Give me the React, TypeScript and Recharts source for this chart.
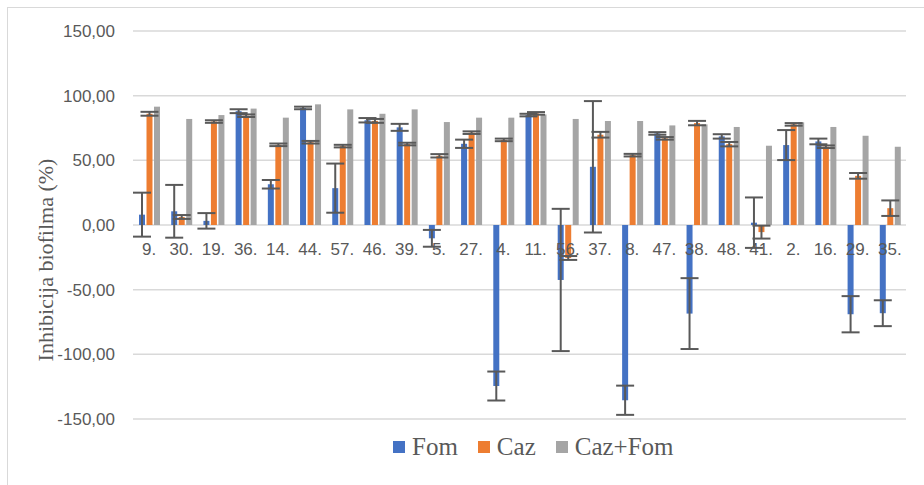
import React from 'react';
import {
  BarChart,
  Bar,
  XAxis,
  YAxis,
  CartesianGrid,
  Legend,
  ErrorBar,
} from 'recharts';

// sample labels, in the order shown on the axis
const samples = [
  '9.', '30.', '19.', '36.', '14.', '44.', '57.', '46.', '39.', '5.', '27.', '4.',
  '11.', '56.', '37.', '8.', '47.', '38.', '48.', '41.', '2.', '16.', '29.', '35.',
];

const fom = [
  8, 10.6, 3.2, 88, 31.5, 90.5, 28.5, 81, 75.5, -10.3, 62.8, -124.5,
  85, -42.5, 45, -135.5, 70.8, -68.5, 68.5, 1.8, 61.8, 64.6, -69, -68.2,
];
const fomErr = [
  17, 20.4, 6, 1.5, 3.3, 1, 19, 1.7, 2.7, 6.5, 3.2, 11.2,
  1, 55, 50.8, 11.3, 1, 27.4, 1.7, 19.5, 11.6, 2.2, 14, 10,
];
const caz = [
  86, 6.2, 80, 84.5, 62, 64, 61, 80.5, 62.6, 53.5, 71.4, 65.8,
  86.3, -25.5, 69.8, 54, 67, 78.8, 62.5, -5.5, 77.8, 60.5, 38, 13,
];
const cazErr = [
  1.5, 1.5, 1, 1, 1, 1, 1, 1.5, 1, 1.3, 1, 1,
  1, 1.5, 2.2, 1, 1, 1.7, 1.7, 5, 1, 1, 2.2, 6,
];
const cazFom = [
  91.5, 82, 85, 90, 83, 93.3, 89.4, 86, 89.4, 79.6, 83, 83,
  85.5, 82, 80.4, 80.4, 77, 77.8, 75.8, 61.3, 79.4, 75.8, 69, 60.5,
];

const seriesOrder = ['Fom', 'Caz', 'Caz+Fom'];
const yTicks = [-150, -100, -50, 0, 50, 100, 150];

const data = samples.map((name, i) => ({
  name,
  Fom: fom[i],
  fomErr: fomErr[i],
  Caz: caz[i],
  cazErr: cazErr[i],
  'Caz+Fom': cazFom[i],
}));

const W = 924;
const H = 485;
const TOP = 31;
const BOTTOM = 66;
const Y_MIN = -150;
const Y_MAX = 150;
const ZERO_Y = TOP + ((H - TOP - BOTTOM) * Y_MAX) / (Y_MAX - Y_MIN);

const tickFont = "'Liberation Sans', Arial, sans-serif";
const serif = "'Liberation Serif', 'Times New Roman', serif";

// category labels sit just under the zero line, like Excel does
const CategoryTick = (props: any) => (
  <text
    x={props.x}
    y={ZERO_Y + 18}
    dy="0.71em"
    textAnchor="middle"
    fill="#595959"
    fontSize={17}
    fontFamily={tickFont}
  >
    {props.payload.value}
  </text>
);

const renderLegend = (props: any) => {
  const items = [...(props.payload || [])].sort(
    (a: any, b: any) => seriesOrder.indexOf(a.value) - seriesOrder.indexOf(b.value)
  );
  return (
    <div style={{ display: 'flex', alignItems: 'center', fontFamily: serif, fontSize: 25, color: '#595959', whiteSpace: 'nowrap' }}>
      {items.map((entry: any) => (
        <div key={entry.value} style={{ display: 'flex', alignItems: 'center', marginRight: 20, flexShrink: 0 }}>
          <svg width={12} height={12} style={{ marginRight: 7, flexShrink: 0, display: 'block' }}>
            <rect x={0} y={0} width={12} height={12} fill={entry.color} />
          </svg>
          <span>{entry.value}</span>
        </div>
      ))}
    </div>
  );
};

export default function App() {
  return (
    <div style={{ position: 'absolute', left: 0, top: 0, width: W, height: H, background: '#fff', overflow: 'hidden' }}>
      <div
        style={{
          position: 'absolute',
          left: 7,
          top: 7,
          width: W + 20,
          height: H + 20,
          border: '1.5px solid #d9d9d9',
        }}
      />
      <div style={{ position: 'absolute', left: 0, top: 0 }}>
        <BarChart
          width={W}
          height={H}
          data={data}
          margin={{ top: TOP, right: 18, bottom: 0, left: 0 }}
          barSize={6}
          barGap={1.5}
        >
          <CartesianGrid vertical={false} stroke="#d9d9d9" strokeWidth={1.5} />
          <XAxis
            dataKey="name"
            height={BOTTOM}
            axisLine={false}
            tickLine={false}
            interval={0}
            tick={<CategoryTick />}
            zIndex={50}
          />
          <YAxis
            width={133}
            domain={[Y_MIN, Y_MAX]}
            ticks={yTicks}
            axisLine={false}
            tickLine={false}
            tickSize={0}
            tickMargin={18}
            tick={{ fill: '#595959', fontSize: 17, fontFamily: tickFont }}
            tickFormatter={(v: number) => v.toFixed(2).replace('.', ',')}
            label={{
              content: () => (
                <text
                  transform="translate(45,260) rotate(-90)"
                  textAnchor="middle"
                  dominantBaseline="central"
                  fill="#595959"
                  fontSize={22}
                  fontFamily={serif}
                >
                  Inhibicija biofilma (%)
                </text>
              ),
            }}
          />
          <Legend
            verticalAlign="middle"
            layout="horizontal"
            content={renderLegend}
            wrapperStyle={{ left: 393, top: 433, width: 420 }}
          />
          <Bar dataKey="Fom" fill="#4472C4" isAnimationActive={false}>
            <ErrorBar dataKey="fomErr" width={9} stroke="#595959" strokeWidth={2} />
          </Bar>
          <Bar dataKey="Caz" fill="#ED7D31" isAnimationActive={false}>
            <ErrorBar dataKey="cazErr" width={9} stroke="#595959" strokeWidth={2} />
          </Bar>
          <Bar dataKey="Caz+Fom" fill="#A5A5A5" isAnimationActive={false} />
        </BarChart>
      </div>
    </div>
  );
}
